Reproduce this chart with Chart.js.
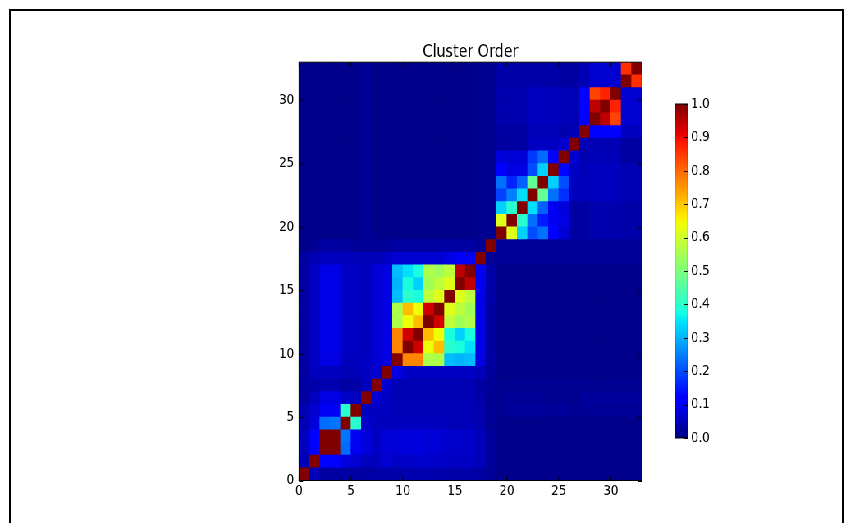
<!DOCTYPE html>
<html><head><meta charset="utf-8">
<script src="https://cdn.jsdelivr.net/npm/chart.js@4"></script>
<style>
html,body{margin:0;padding:0;background:#fff;width:846px;height:523px;overflow:hidden;position:relative}
#frame{position:absolute;left:9px;top:9px;width:831px;height:600px;border:2px solid #000;}
#wrap{position:absolute;left:0;top:0;width:1031px;height:523px;transform:scaleX(0.82056);transform-origin:0 0;}
#main{position:absolute;left:0;top:0;}
#cb{position:absolute;left:810px;top:84px;}
</style></head><body>
<div id="frame"></div>
<div id="wrap"><canvas id="main" width="1031" height="523"></canvas><canvas id="cb" width="80" height="374"></canvas></div>
<script>
// ---- data ----
const titleText = 'Cluster Order';
const axisTicks = [0, 5, 10, 15, 20, 25, 30];
const colorbarTicks = [0, 0.1, 0.2, 0.3, 0.4, 0.5, 0.6, 0.7, 0.8, 0.9, 1.0];
const cellCount = 33;
// heat[row][col], row 0 at the bottom
const heat = [
[1,.05,.03,.03,.03,.03,.03,.035,.035,.035,.04,.04,.04,.04,.035,.035,.035,.03,.02,.01,.01,.01,.01,.01,.01,.01,.01,.01,.01,.01,.01,.01,.01],
[.05,1,.12,.12,.08,.07,.055,.055,.07,.06,.065,.065,.065,.065,.06,.06,.06,.05,.025,.01,.01,.01,.01,.01,.01,.01,.01,.01,.01,.01,.01,.01,.01],
[.055,.12,1,1,.23,.10,.08,.06,.075,.075,.08,.08,.075,.075,.065,.065,.065,.05,.025,.012,.012,.012,.012,.012,.012,.012,.012,.012,.012,.012,.012,.012,.012],
[.055,.12,1,1,.24,.10,.08,.06,.075,.075,.08,.08,.075,.075,.065,.065,.065,.05,.025,.012,.012,.012,.012,.012,.012,.012,.012,.012,.012,.012,.012,.012,.012],
[.045,.08,.23,.24,1,.40,.065,.055,.055,.055,.055,.055,.055,.055,.05,.05,.05,.04,.02,.01,.01,.01,.01,.01,.01,.01,.01,.01,.01,.01,.01,.01,.01],
[.045,.07,.10,.10,.40,1,.055,.06,.055,.05,.05,.05,.05,.05,.05,.05,.05,.04,.02,.015,.025,.025,.025,.025,.02,.025,.015,.02,.02,.02,.02,.02,.02],
[.03,.055,.085,.085,.065,.055,1,.07,.06,.045,.045,.045,.045,.045,.045,.045,.045,.035,.02,.015,.02,.02,.02,.02,.015,.015,.015,.025,.025,.025,.025,.025,.025],
[.03,.035,.04,.04,.03,.035,.055,1,.07,.045,.045,.045,.045,.045,.045,.045,.045,.03,.02,.015,.015,.015,.015,.015,.015,.015,.015,.015,.015,.015,.015,.015,.015],
[.03,.055,.055,.055,.045,.05,.06,.07,1,.085,.06,.06,.06,.06,.06,.06,.06,.05,.025,.01,.01,.01,.01,.01,.01,.01,.01,.01,.01,.01,.01,.01,.01],
[.03,.06,.085,.085,.055,.055,.06,.07,.085,1,.77,.77,.56,.56,.31,.30,.31,.085,.03,.01,.01,.01,.01,.01,.01,.01,.01,.01,.01,.01,.01,.01,.01],
[.03,.06,.09,.09,.06,.06,.055,.075,.085,.77,1,.93,.64,.71,.40,.38,.345,.09,.03,.01,.01,.01,.01,.01,.01,.01,.01,.01,.01,.01,.01,.01,.01],
[.03,.06,.09,.09,.06,.06,.055,.075,.085,.77,.93,1,.71,.64,.38,.33,.38,.09,.03,.01,.01,.01,.01,.01,.01,.01,.01,.01,.01,.01,.01,.01,.01],
[.03,.06,.09,.09,.06,.06,.055,.075,.085,.56,.64,.71,1,.93,.58,.545,.56,.09,.03,.01,.01,.01,.01,.01,.01,.01,.01,.01,.01,.01,.01,.01,.01],
[.03,.06,.09,.09,.06,.06,.055,.075,.085,.56,.71,.64,.93,1,.62,.58,.545,.09,.03,.01,.01,.01,.01,.01,.01,.01,.01,.01,.01,.01,.01,.01,.01],
[.03,.06,.09,.09,.06,.06,.055,.075,.085,.31,.40,.38,.58,.62,1,.62,.58,.09,.035,.01,.01,.01,.01,.01,.01,.01,.01,.01,.01,.01,.01,.01,.01],
[.03,.06,.09,.09,.06,.06,.055,.075,.085,.30,.38,.33,.545,.58,.62,1,.945,.10,.035,.01,.01,.01,.01,.01,.01,.01,.01,.01,.01,.01,.01,.01,.01],
[.03,.06,.09,.09,.06,.06,.055,.075,.085,.31,.345,.38,.56,.545,.58,.945,1,.10,.035,.01,.01,.01,.01,.01,.01,.01,.01,.01,.01,.01,.01,.01,.01],
[.03,.045,.055,.055,.055,.05,.05,.05,.06,.07,.07,.07,.07,.07,.085,.10,.10,1,.02,.02,.02,.02,.02,.02,.02,.02,.02,.02,.02,.02,.02,.02,.02],
[.01,.02,.03,.03,.03,.02,.02,.02,.025,.03,.03,.03,.03,.03,.03,.03,.03,.02,1,.02,.02,.02,.02,.02,.02,.02,.02,.02,.02,.02,.02,.02,.02],
[.01,.01,.01,.01,.01,.01,.02,.01,.01,.01,.01,.01,.01,.01,.01,.01,.01,.015,.015,1,.62,.33,.20,.235,.11,.075,.03,.03,.04,.04,.04,.035,.035],
[.01,.01,.01,.01,.01,.01,.02,.01,.01,.01,.01,.01,.01,.01,.01,.01,.01,.015,.015,.62,1,.40,.235,.15,.10,.085,.03,.03,.04,.04,.04,.035,.035],
[.01,.01,.01,.01,.01,.01,.02,.01,.01,.01,.01,.01,.01,.01,.01,.01,.01,.015,.015,.33,.40,1,.345,.22,.10,.08,.03,.03,.04,.04,.04,.035,.035],
[.01,.01,.01,.01,.01,.01,.02,.01,.01,.01,.01,.01,.01,.01,.01,.01,.01,.015,.015,.19,.25,.345,1,.47,.235,.17,.055,.05,.055,.055,.055,.045,.045],
[.01,.01,.01,.01,.01,.01,.02,.01,.01,.01,.01,.01,.01,.01,.01,.01,.01,.015,.015,.235,.16,.22,.47,1,.33,.20,.055,.05,.055,.055,.055,.045,.045],
[.01,.01,.01,.01,.01,.01,.02,.01,.01,.01,.01,.01,.01,.01,.01,.01,.01,.015,.015,.12,.085,.085,.20,.33,1,.13,.06,.05,.055,.055,.055,.045,.045],
[.01,.01,.01,.01,.01,.01,.02,.01,.01,.01,.01,.01,.01,.01,.01,.01,.01,.015,.015,.08,.075,.075,.18,.23,.11,1,.07,.04,.05,.05,.05,.03,.03],
[.01,.01,.01,.01,.01,.01,.02,.01,.01,.01,.01,.01,.01,.01,.01,.01,.01,.015,.015,.03,.03,.03,.055,.06,.06,.07,1,.045,.045,.045,.045,.03,.03],
[.01,.01,.01,.01,.01,.01,.02,.01,.01,.01,.01,.01,.01,.01,.01,.01,.01,.015,.015,.03,.03,.03,.05,.05,.05,.04,.045,1,.12,.12,.12,.055,.055],
[.01,.01,.01,.01,.01,.01,.02,.01,.01,.01,.01,.01,.01,.01,.01,.01,.01,.015,.015,.04,.04,.04,.055,.055,.055,.05,.045,.11,1,.945,.84,.07,.07],
[.01,.01,.01,.01,.01,.01,.02,.01,.01,.01,.01,.01,.01,.01,.01,.01,.01,.015,.015,.04,.04,.04,.055,.055,.055,.05,.045,.11,.945,1,.875,.07,.07],
[.01,.01,.01,.01,.01,.01,.02,.01,.01,.01,.01,.01,.01,.01,.01,.01,.01,.015,.015,.04,.04,.04,.055,.055,.055,.05,.045,.11,.84,.875,1,.07,.07],
[.01,.01,.01,.01,.01,.01,.02,.01,.01,.01,.01,.01,.01,.01,.01,.01,.01,.015,.015,.035,.035,.035,.035,.035,.035,.03,.03,.045,.07,.07,.07,1,.86],
[.01,.01,.01,.01,.01,.01,.02,.01,.01,.01,.01,.01,.01,.01,.01,.01,.01,.015,.015,.035,.035,.035,.035,.035,.035,.03,.03,.045,.07,.07,.07,.86,1]
];

// ---- jet colormap ----
const JR = [[0,0],[0.35,0],[0.66,1],[0.89,1],[1,0.5]];
const JG = [[0,0],[0.125,0],[0.375,1],[0.64,1],[0.91,0],[1,0]];
const JB = [[0,0.5],[0.11,1],[0.34,1],[0.65,0],[1,0]];
function interp(pts, v) {
  for (let i = 1; i < pts.length; i++) {
    if (v <= pts[i][0]) {
      const [x0, y0] = pts[i - 1], [x1, y1] = pts[i];
      return y0 + (y1 - y0) * (v - x0) / (x1 - x0);
    }
  }
  return pts[pts.length - 1][1];
}
function jet(v) {
  v = Math.min(1, Math.max(0, v));
  return 'rgb(' + Math.round(interp(JR, v) * 255) + ',' + Math.round(interp(JG, v) * 255) + ',' + Math.round(interp(JB, v) * 255) + ')';
}
const jetStops = [0, 0.11, 0.125, 0.34, 0.35, 0.375, 0.64, 0.65, 0.66, 0.89, 0.91, 1];

const SX = 846 / 1031;
const FONT = 'DejaVu Sans';

// frame + inward ticks, positions taken from the chart scales
const frameTicks = {
  id: 'frameTicks',
  afterDatasetsDraw(chart, args, opts) {
    const { ctx, chartArea: a, scales } = chart;
    const L = 4, LX = 4 / SX;
    ctx.save();
    ctx.strokeStyle = '#000';
    ctx.lineWidth = 1;
    ctx.beginPath();
    if (opts.x && scales.x) {
      for (const t of scales.x.ticks) {
        const p = scales.x.getPixelForValue(t.value);
        ctx.moveTo(p, a.bottom); ctx.lineTo(p, a.bottom - L);
        ctx.moveTo(p, a.top); ctx.lineTo(p, a.top + L);
      }
    }
    if (scales.y) {
      for (const t of scales.y.ticks) {
        const p = Math.round(scales.y.getPixelForValue(t.value)) + 0.5;
        if (opts.yLeft) { ctx.moveTo(a.left, p); ctx.lineTo(a.left + LX, p); }
        if (opts.yRight) { ctx.moveTo(a.right, p); ctx.lineTo(a.right - LX, p); }
      }
    }
    ctx.stroke();
    ctx.strokeRect(a.left, a.top, a.right - a.left, a.bottom - a.top);
    ctx.restore();
  }
};

const tickFont = { family: FONT, size: 14.5 };

const datasets = heat.map((row, r) => ({
  label: 'row ' + r,
  data: row.map((v, c) => ({ x: c + 0.5, y: [r, r + 1] })),
  backgroundColor: row.map(jet),
  borderWidth: 0,
  grouped: false,
  barPercentage: 1,
  categoryPercentage: 1,
  inflateAmount: 0.4
}));

new Chart(document.getElementById('main'), {
  type: 'bar',
  data: { datasets },
  plugins: [frameTicks],
  options: {
    responsive: false,
    animation: false,
    devicePixelRatio: 1,
    events: [],
    layout: { padding: { left: 324.4, right: 248.6, top: 43.5, bottom: 12.5 } },
    plugins: {
      legend: { display: false },
      tooltip: { enabled: false },
      title: {
        display: true, text: titleText, fullSize: false, color: '#000',
        font: { family: FONT, size: 17.4, weight: 'normal', lineHeight: 1.0 },
        padding: { top: 0, bottom: 1.3 }
      },
      frameTicks: { x: true, yLeft: true, yRight: true }
    },
    scales: {
      x: {
        type: 'linear', min: 0, max: cellCount, offset: false,
        grid: { display: false, drawTicks: false }, border: { display: false },
        ticks: { autoSkip: false, maxRotation: 0, padding: 2, color: '#000', font: tickFont, callback: v => String(v) },
        afterBuildTicks: s => { s.ticks = axisTicks.map(v => ({ value: v })); },
        afterFit: s => { s.height = 30; }
      },
      y: {
        type: 'linear', min: 0, max: cellCount,
        grid: { display: false, drawTicks: false }, border: { display: false },
        ticks: { padding: 6, color: '#000', font: tickFont, callback: v => String(v) },
        afterBuildTicks: s => { s.ticks = axisTicks.map(v => ({ value: v })); },
        afterFit: s => { s.width = 40; }
      }
    }
  }
});

new Chart(document.getElementById('cb'), {
  type: 'bar',
  data: {
    labels: [''],
    datasets: [{
      data: [[0, 1]],
      borderWidth: 0,
      barPercentage: 1,
      categoryPercentage: 1,
      inflateAmount: 0,
      backgroundColor: (c) => {
        const ch = c.chart;
        if (!ch.chartArea || !ch.scales.y) return '#000080';
        const y0 = ch.scales.y.getPixelForValue(0), y1 = ch.scales.y.getPixelForValue(1);
        const g = ch.ctx.createLinearGradient(0, y0, 0, y1);
        jetStops.forEach(s => g.addColorStop(s, jet(s)));
        return g;
      }
    }]
  },
  plugins: [frameTicks],
  options: {
    responsive: false,
    animation: false,
    devicePixelRatio: 1,
    events: [],
    layout: { padding: { left: 12.6, right: 0, top: 20, bottom: 20 } },
    plugins: {
      legend: { display: false },
      tooltip: { enabled: false },
      frameTicks: { x: false, yLeft: false, yRight: true }
    },
    scales: {
      x: { display: false },
      y: {
        position: 'right', min: 0, max: 1,
        grid: { display: false, drawTicks: false }, border: { display: false },
        ticks: { padding: 3.6, color: '#000', font: tickFont, callback: v => v.toFixed(1) },
        afterBuildTicks: s => { s.ticks = colorbarTicks.map(v => ({ value: v })); },
        afterFit: s => { s.width = 51.6; }
      }
    }
  }
});
</script>
</body></html>
